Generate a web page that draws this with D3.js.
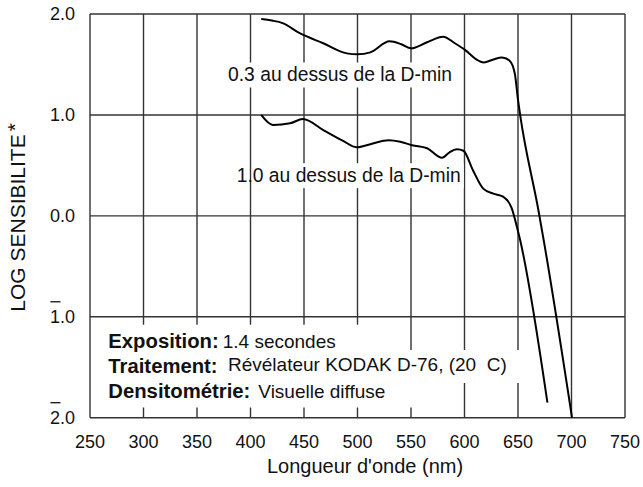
<!DOCTYPE html>
<html><head><meta charset="utf-8">
<script src="https://cdn.jsdelivr.net/npm/d3@7"></script>
<style>
body{margin:0;background:#fff}
svg{display:block}
text{font-family:"Liberation Sans",Arial,Helvetica,sans-serif;fill:#111}
</style>
</head><body>
<svg id="chart" width="643" height="487"></svg>
<script>
// ---- data ----
const xTickValues = [250, 300, 350, 400, 450, 500, 550, 600, 650, 700, 750];
const yTickValues = [2, 1, 0, -1, -2];
const seriesNames = ["0.3 au dessus de la D-min", "1.0 au dessus de la D-min"];
const wavelength03 = [410, 420, 430, 446, 468, 490, 500, 512, 530, 541, 550, 565, 580, 591, 601, 611, 618, 627, 635, 642, 647, 650, 652, 669, 674, 700.5];
const logSens03    = [1.95, 1.935, 1.91, 1.81, 1.71, 1.61, 1.60, 1.62, 1.73, 1.70, 1.66, 1.72, 1.775, 1.71, 1.64, 1.55, 1.52, 1.55, 1.57, 1.54, 1.41, 1.15, 1.0, 0.06, -0.24, -2.0];
const wavelength10 = [410, 421, 437, 449, 468, 487, 499, 512, 529, 540, 551, 565, 579, 586, 593, 599, 608, 617.5, 627, 636, 644, 649, 652, 677.5];
const logSens10    = [1.0, 0.90, 0.917, 0.96, 0.85, 0.74, 0.68, 0.71, 0.75, 0.735, 0.70, 0.67, 0.575, 0.63, 0.66, 0.645, 0.45, 0.27, 0.22, 0.19, 0.08, -0.11, -0.24, -1.85];
const xTitle = "Longueur d'onde (nm)";
const yTitle = "LOG SENSIBILITE";
const noteLabels = ["Exposition:", "Traitement:", "Densitométrie:"];
const noteValues = ["1.4 secondes", "Révélateur KODAK D-76, (20\u00a0\u00a0C)", "Visuelle diffuse"];

// ---- layout ----
const svg = d3.select("#chart");
const x = d3.scaleLinear().domain([250, 750]).range([90, 625]);
const y = d3.scaleLinear().domain([-2, 2]).range([417.7, 14]);
const gridColor = "#333";

// grid
const grid = svg.append("g");
grid.selectAll("line.v").data(xTickValues).join("line")
  .attr("x1", d => x(d)).attr("x2", d => x(d))
  .attr("y1", y(2)).attr("y2", y(-2))
  .attr("stroke", gridColor).attr("stroke-width", 1.4);
grid.selectAll("line.h").data(yTickValues).join("line")
  .attr("y1", d => y(d)).attr("y2", d => y(d))
  .attr("x1", x(250)).attr("x2", x(750))
  .attr("stroke", gridColor).attr("stroke-width", 1.4);

// x tick labels
svg.append("g").selectAll("text").data(xTickValues).join("text")
  .attr("x", d => x(d)).attr("y", 448)
  .attr("text-anchor", "middle").attr("font-size", 18)
  .text(d => d);

// y tick labels (negative characteristic shown with overbar)
const yl = svg.append("g");
yTickValues.forEach(v => {
  const t = yl.append("text")
    .attr("x", 75).attr("y", y(v)).attr("dy", "0.35em")
    .attr("text-anchor", "end").attr("font-size", 18)
    .text(Math.abs(v).toFixed(1));
  if (v < 0) {
    const n = t.node();
    const s = n.getStartPositionOfChar(0).x, e = n.getEndPositionOfChar(0).x;
    yl.append("line").attr("x1", s + 0.5).attr("x2", e + 0.5)
      .attr("y1", y(v) - 15).attr("y2", y(v) - 15)
      .attr("stroke", "#111").attr("stroke-width", 1.3);
  }
});

// axis titles
svg.append("text").attr("x", 365).attr("y", 473)
  .attr("text-anchor", "middle").attr("font-size", 20).text(xTitle);
const yt = svg.append("text")
  .attr("transform", "translate(25,311.7) rotate(-90)")
  .attr("font-size", 21).text(yTitle);
yt.append("tspan").attr("dx", 3).attr("dy", -3).text("*");

// curve labels with white backgrounds
const labelPos = [{x: 228, y: 81, bgStart: null}, {x: 236.7, y: 181.7, bgStart: x(400) + 3}];
const labelBg = svg.append("g"), labelG = svg.append("g");
seriesNames.forEach((name, i) => {
  const t = labelG.append("text").attr("x", labelPos[i].x).attr("y", labelPos[i].y)
    .attr("font-size", 19.3).text(name);
  const b = t.node().getBBox();
  const x0 = labelPos[i].bgStart !== null ? labelPos[i].bgStart : b.x - 3;
  labelBg.append("rect").attr("x", x0).attr("y", labelPos[i].y - 18.5)
    .attr("width", b.x + b.width + 3 - x0).attr("height", 25).attr("fill", "#fff");
});

// notes block
const noteBaselines = [347.7, 373, 397.5];
const noteValueX = [219.3, 228, 258.3];
const noteBg = svg.append("g"), noteG = svg.append("g");
noteLabels.forEach((lab, i) => {
  const lt = noteG.append("text").attr("x", 108.3).attr("y", noteBaselines[i])
    .attr("font-size", 20.3).attr("font-weight", "bold").text(lab);
  const lb = lt.node().getBBox();
  const vx = Math.max(noteValueX[i], lb.x + lb.width + 4);
  const vt = noteG.append("text").attr("x", vx).attr("y", noteBaselines[i] - (i === 1 ? 2 : 0))
    .attr("font-size", 19).text(noteValues[i]);
  const b = vt.node().getBBox();
  noteBg.append("rect").attr("x", 100).attr("y", noteBaselines[i] - 23)
    .attr("width", b.x + b.width + 30 - 100).attr("height", 33).attr("fill", "#fff");
});

// curves
const line = d3.line().x(d => x(d[0])).y(d => y(d[1])).curve(d3.curveMonotoneX);
const series = [d3.zip(wavelength03, logSens03), d3.zip(wavelength10, logSens10)];
svg.append("g").selectAll("path").data(series).join("path")
  .attr("d", line).attr("fill", "none").attr("stroke", "#000")
  .attr("stroke-width", 2).attr("stroke-linejoin", "round");
</script>
</body></html>
